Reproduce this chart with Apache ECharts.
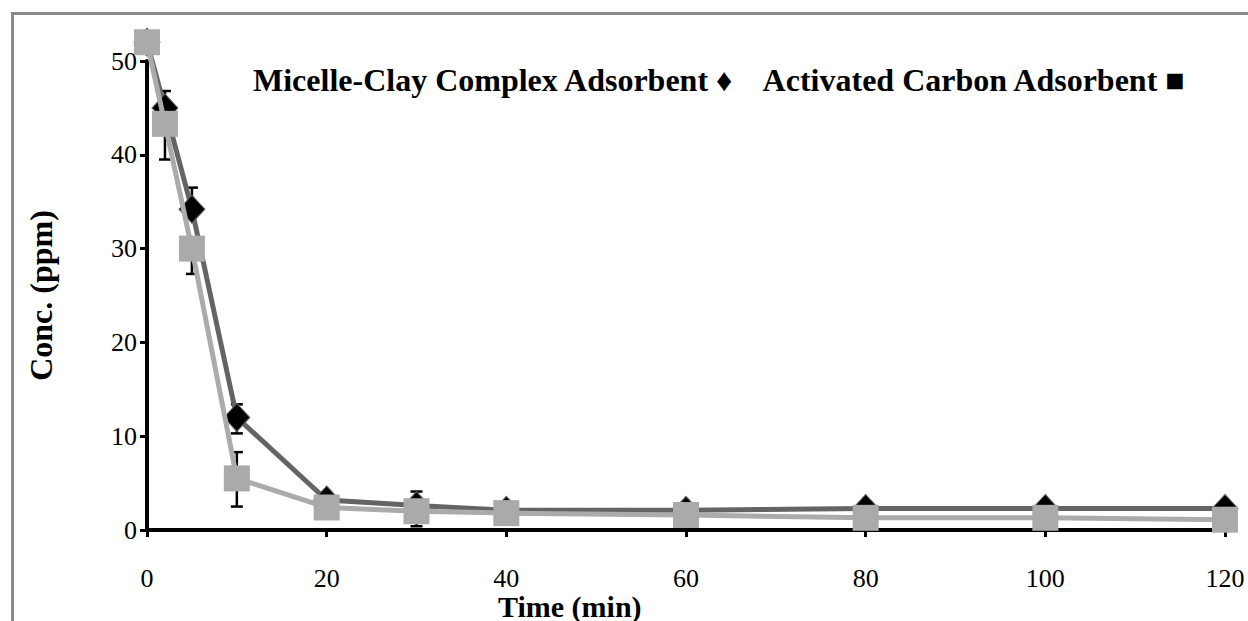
<!DOCTYPE html>
<html><head><meta charset="utf-8">
<script src="https://cdn.jsdelivr.net/npm/echarts@6/dist/echarts.min.js"></script>
<style>html,body{margin:0;padding:0;background:#fff}#c{width:1248px;height:621px}</style>
</head><body><div id="c"></div>
<script>
var times = [0, 2, 5, 10, 20, 30, 40, 60, 80, 100, 120];
var micelleClay = [52, 45, 34.2, 12, 3.2, 2.6, 2.1, 2.1, 2.3, 2.3, 2.3];
var micelleLow  = [null, null, null, 10.3, null, 0.4, null, null, null, null, null];
var micelleHigh = [null, 46.8, 36.5, 13.4, null, 4.1, null, null, null, null, null];
var carbon = [52, 43.3, 30, 5.5, 2.4, 2.0, 1.8, 1.6, 1.3, 1.3, 1.1];
var carbonLow  = [null, 39.5, 27.3, 2.5, null, null, null, null, null, null, null];
var carbonHigh = [null, null, null, 8.3, null, null, null, null, null, null, null];
var xTicks = [0, 20, 40, 60, 80, 100, 120];
var yTicks = [0, 10, 20, 30, 40, 50];
var legendText = 'Micelle-Clay Complex Adsorbent \u2666    Activated Carbon Adsorbent \u25A0';
var xTitle = 'Time (min)';
var yTitle = 'Conc. (ppm)';

var FONT = '"Liberation Serif", "Times New Roman", serif';

function pairs(xs, ys) { return xs.map(function (x, i) { return [x, ys[i]]; }); }
function errData(xs, ys, lo, hi) {
  var out = [];
  xs.forEach(function (x, i) {
    if (lo[i] == null && hi[i] == null) return;
    out.push([x, ys[i], lo[i] == null ? ys[i] : lo[i], hi[i] == null ? ys[i] : hi[i]]);
  });
  return out;
}
function errRender(params, api) {
  var x = api.value(0), lo = api.value(2), hi = api.value(3);
  var pLo = api.coord([x, lo]), pHi = api.coord([x, hi]);
  var hw = 6, children = [];
  var style = { stroke: '#000', lineWidth: 2.5 };
  children.push({ type: 'line', shape: { x1: pLo[0], y1: pLo[1], x2: pHi[0], y2: pHi[1] }, style: style });
  if (hi !== api.value(1)) children.push({ type: 'line', shape: { x1: pHi[0] - hw, y1: pHi[1], x2: pHi[0] + hw, y2: pHi[1] }, style: style });
  if (lo !== api.value(1)) children.push({ type: 'line', shape: { x1: pLo[0] - hw, y1: pLo[1], x2: pLo[0] + hw, y2: pLo[1] }, style: style });
  return { type: 'group', children: children };
}

var chart = echarts.init(document.getElementById('c'), null, { renderer: 'svg' });
chart.setOption({
  animation: false,
  backgroundColor: '#fff',
  title: {
    text: legendText, left: 248, top: 59,
    textStyle: { fontFamily: FONT, fontWeight: 'bold', fontSize: 32, color: '#000' }
  },
  graphic: [
    { type: 'rect', left: 10, top: 11, shape: { width: 1260, height: 640 }, style: { fill: 'none', stroke: '#898989', lineWidth: 3 }, silent: true },
    { type: 'text', left: 498, top: 591, style: { text: xTitle, font: 'bold 30px ' + FONT, fill: '#000' } }
  ],
  grid: { left: 147, right: 23, top: 61, bottom: 91, containLabel: false },
  xAxis: {
    type: 'value', min: 0, max: 120, interval: 20,
    axisLine: { show: true, lineStyle: { color: '#000', width: 4 } },
    axisTick: { show: true, inside: false, length: 7, lineStyle: { color: '#000', width: 3 } },
    axisLabel: { margin: 35, fontFamily: FONT, fontSize: 26, color: '#000',
      formatter: function (v) { return xTicks.indexOf(v) >= 0 ? String(v) : ''; } },
    splitLine: { show: false }
  },
  yAxis: {
    type: 'value', min: 0, max: 50, interval: 10,
    name: yTitle, nameLocation: 'middle', nameGap: 90,
    nameTextStyle: { fontFamily: FONT, fontWeight: 'bold', fontSize: 32, color: '#000' },
    axisLine: { show: true, lineStyle: { color: '#000', width: 4 } },
    axisTick: { show: true, inside: false, length: 7, lineStyle: { color: '#000', width: 3 } },
    axisLabel: { margin: 10, fontFamily: FONT, fontSize: 26, color: '#000',
      formatter: function (v) { return yTicks.indexOf(v) >= 0 ? String(v) : ''; } },
    splitLine: { show: false }
  },
  series: [
    { type: 'custom', renderItem: errRender, data: errData(times, micelleClay, micelleLow, micelleHigh), z: 1, clip: false, silent: true },
    { type: 'custom', renderItem: errRender, data: errData(times, carbon, carbonLow, carbonHigh), z: 1, clip: false, silent: true },
    { name: 'Micelle-Clay Complex Adsorbent', type: 'line', data: pairs(times, micelleClay), z: 2, clip: false,
      symbol: 'diamond', symbolSize: [26, 28],
      lineStyle: { color: '#646464', width: 5 },
      itemStyle: { color: '#000', borderColor: '#646464', borderWidth: 1 } },
    { name: 'Activated Carbon Adsorbent', type: 'line', data: pairs(times, carbon), z: 3, clip: false,
      symbol: 'rect', symbolSize: 26,
      lineStyle: { color: '#ababab', width: 5 },
      itemStyle: { color: '#aaaaaa', borderColor: '#aaaaaa', borderWidth: 0 } }
  ]
});
</script></body></html>
